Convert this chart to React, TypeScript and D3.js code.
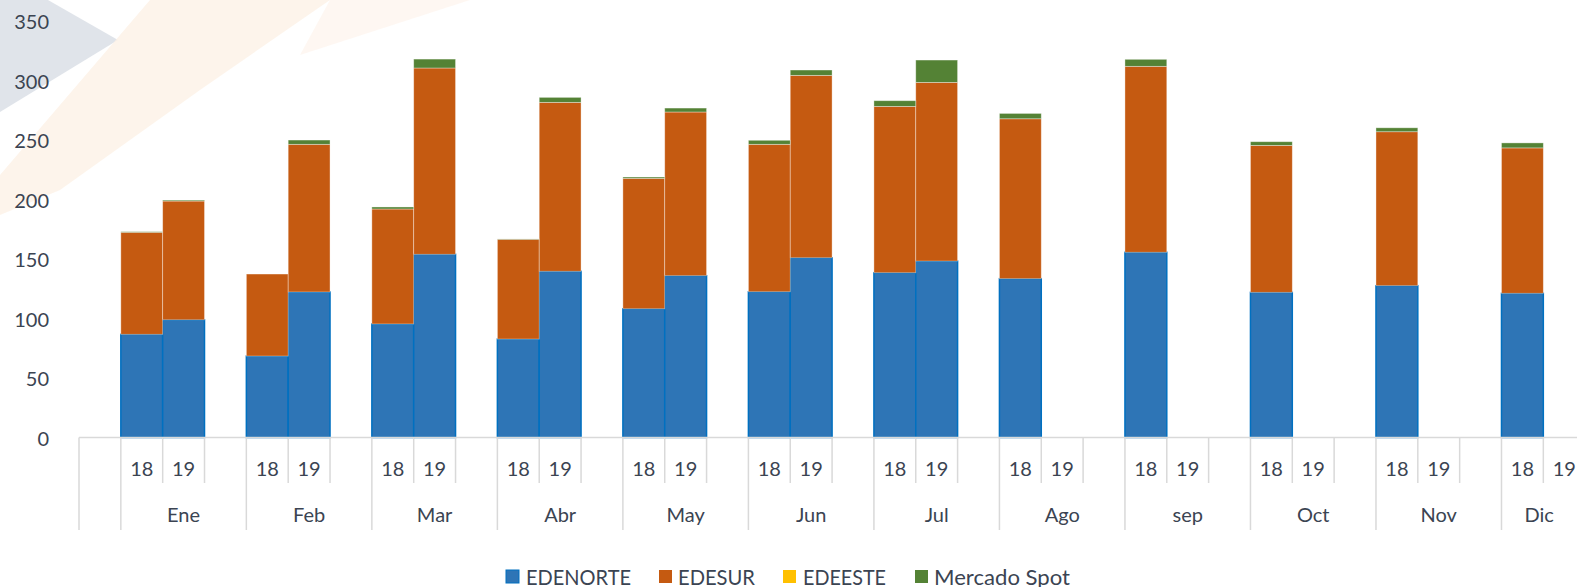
import React from "react";
import * as d3 from "d3";

const months = ["Ene", "Feb", "Mar", "Abr", "May", "Jun", "Jul", "Ago", "sep", "Oct", "Nov", "Dic"];
const years = ["18", "19"];
const seriesNames = ["EDENORTE", "EDESUR", "EDEESTE", "Mercado Spot"];
const seriesColors = ["#2E75B6", "#C55A11", "#FFC000", "#548235"];
const yTicks = [0, 50, 100, 150, 200, 250, 300, 350];

// 2018 values per month
const edenorte18 = [86.8, 68.5, 95.5, 82.8, 108.3, 122.6, 138.6, 133.6, 155.8, 122.1, 127.7, 121.3];
const edesur18 = [85.8, 69.0, 96.7, 83.9, 109.7, 124.0, 139.9, 134.5, 156.4, 123.6, 129.5, 122.3];
const edeeste18 = [0, 0, 0, 0, 0, 0, 0, 0, 0, 0, 0, 0];
const spot18 = [0.5, 0, 1.7, 0.3, 1.1, 3.4, 4.8, 4.5, 5.9, 3.1, 3.3, 4.2];
// 2019 values per month (null = not yet available)
const edenorte19 = [99.0, 122.4, 154.1, 139.8, 136.1, 151.2, 148.4, null, null, null, null, null];
const edesur19 = [99.9, 124.2, 156.7, 142.1, 137.7, 153.4, 150.3, null, null, null, null, null];
const edeeste19 = [0, 0, 0, 0, 0, 0, 0, null, null, null, null, null];
const spot19 = [0.8, 3.6, 7.5, 4.2, 3.3, 4.5, 18.8, null, null, null, null, null];

const W = 1577;
const H = 587;

export default function App() {
  const slots: { key: string; month: string | null; year: string | null }[] = [{ key: "lead", month: null, year: null }];
  months.forEach((m) => {
    slots.push({ key: m + "|" + years[0], month: m, year: years[0] });
    slots.push({ key: m + "|" + years[1], month: m, year: years[1] });
    slots.push({ key: m + "|gap", month: m, year: null });
  });

  const x = d3.scaleBand<string>().domain(slots.map((s) => s.key)).range([79, 1627]).padding(0);
  const y = d3.scaleLinear().domain([0, 350]).range([437.5, 21.4]);

  const rows: any[] = [];
  months.forEach((m, i) => {
    rows.push({ key: m + "|18", EDENORTE: edenorte18[i], EDESUR: edesur18[i], EDEESTE: edeeste18[i], "Mercado Spot": spot18[i] });
    if (edenorte19[i] !== null) {
      rows.push({ key: m + "|19", EDENORTE: edenorte19[i], EDESUR: edesur19[i], EDEESTE: edeeste19[i], "Mercado Spot": spot19[i] });
    }
  });
  const stacked = d3.stack<any>().keys(seriesNames)(rows);

  const bw = x.bandwidth();
  const axisY = y(0);
  const textColor = "#3b4452";
  const font = "Lato, 'Open Sans', sans-serif";

  const legendItems = [
    { name: "EDENORTE", sx: 506, tx: 526, w: 105 },
    { name: "EDESUR", sx: 659, tx: 678, w: 77 },
    { name: "EDEESTE", sx: 783, tx: 803, w: 83 },
    { name: "Mercado Spot", sx: 915, tx: 934, w: 136 },
  ];

  return (
    <div>
      <style>{`body{margin:0;}`}</style>
      <svg width={W} height={H} style={{ display: "block", background: "#fff" }}>
        {/* watermark background */}
        <polygon points="0,0 48,0 118,40 0,112" fill="#dde1e8" opacity={0.9} />
        <polygon points="150,0 330,0 200,90 60,190 0,215 0,175" fill="#fdf1e6" opacity={0.8} />
        <polygon points="330,0 470,0 300,55" fill="#fdf4ec" opacity={0.7} />

        {/* y labels */}
        {yTicks.map((t) => (
          <text key={t} x={49} y={y(t)} textAnchor="end" dominantBaseline="central" fontFamily={font} fontSize={20} fill={textColor}>
            {t}
          </text>
        ))}

        {/* bars */}
        {stacked.map((layer, li) => (
          <g key={layer.key}>
            {layer.map((d: any, di: number) => {
              const h = y(d[0]) - y(d[1]);
              if (h <= 0) return null;
              const isBlue = li === 0;
              return (
                <rect
                  key={di}
                  x={x(d.data.key)!}
                  y={y(d[1])}
                  width={bw}
                  height={h}
                  fill={seriesColors[li]}
                  stroke={isBlue ? "#0070C0" : "rgba(255,255,255,0.45)"}
                  strokeWidth={isBlue ? 1.5 : 0.8}
                />
              );
            })}
          </g>
        ))}

        {/* x axis */}
        <line x1={79} x2={W} y1={axisY} y2={axisY} stroke="#d9d9d9" strokeWidth={1.5} />
        {slots.map((s, i) => {
          const xs = x(s.key)!;
          const groupStart = s.key === "lead" || s.year === "18";
          return (
            <line key={"t" + i} x1={xs} x2={xs} y1={axisY} y2={groupStart ? 530 : 483} stroke="#d9d9d9" strokeWidth={1.5} />
          );
        })}
        {slots
          .filter((s) => s.year)
          .map((s) => (
            <text key={"yl" + s.key} x={x(s.key)! + bw / 2} y={468} textAnchor="middle" dominantBaseline="central" fontFamily={font} fontSize={20} fill={textColor}>
              {s.year}
            </text>
          ))}
        {months.map((m) => {
          const x0 = x(m + "|18")!;
          const x1 = Math.min(x(m + "|gap")! + bw, W);
          return (
            <text key={"m" + m} x={(x0 + x1) / 2} y={514} textAnchor="middle" dominantBaseline="central" fontFamily={font} fontSize={20} fill={textColor}>
              {m}
            </text>
          );
        })}

        {/* legend */}
        {legendItems.map((l, i) => (
          <g key={l.name}>
            <rect x={l.sx} y={570} width={13} height={13} fill={seriesColors[i]} stroke={i === 0 ? "#0070C0" : "none"} strokeWidth={1} />
            <text x={l.tx} y={576} dominantBaseline="central" fontFamily={font} fontSize={21} fill={textColor} textLength={l.w} lengthAdjust="spacingAndGlyphs">
              {l.name}
            </text>
          </g>
        ))}
      </svg>
    </div>
  );
}
